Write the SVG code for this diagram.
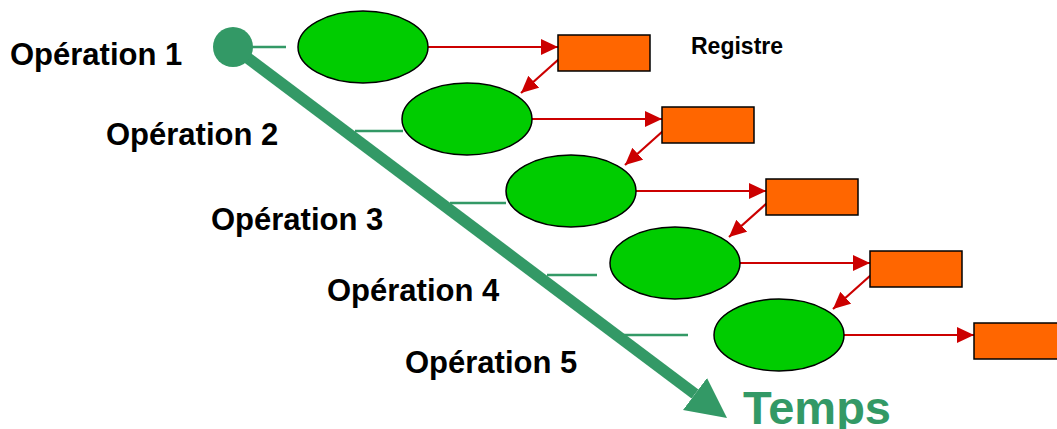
<svg xmlns="http://www.w3.org/2000/svg" width="1057" height="429" viewBox="0 0 1057 429">
  <defs>
    <style>
      .stage { fill: #00cc00; stroke: #000; stroke-width: 1.5; }
      .reg { fill: #ff6600; stroke: #000; stroke-width: 1.5; }
      .flow { stroke: #cc0000; stroke-width: 2.2; fill: none; marker-end: url(#redHead); }
      .tick { stroke: #339966; stroke-width: 2.5; }
      .label { font-family: "Liberation Sans", Arial, sans-serif; font-weight: bold; fill: #000; }
    </style>
    <marker id="redHead" markerUnits="userSpaceOnUse" markerWidth="18" markerHeight="17" refX="17" refY="8" orient="auto">
      <path d="M0,0 L17,8 L0,16 z" fill="#cc0000"/>
    </marker>
    <marker id="timeHead" markerUnits="userSpaceOnUse" markerWidth="42" markerHeight="42" refX="0" refY="20" orient="auto">
      <path d="M0,0 L40,20 L0,40 z" fill="#339966"/>
    </marker>
  </defs>

  <rect width="1057" height="429" fill="#fff"/>

  <!-- time axis -->
  <g id="time-axis">
    <line x1="233" y1="47" x2="695" y2="394" stroke="#339966" stroke-width="11.5" marker-end="url(#timeHead)"/>
    <circle cx="233" cy="47" r="20" fill="#339966"/>
    <line class="tick" x1="250" y1="47" x2="286" y2="47"/>
    <line class="tick" x1="355" y1="131" x2="403" y2="131"/>
    <line class="tick" x1="450" y1="203" x2="506" y2="203"/>
    <line class="tick" x1="547" y1="275" x2="597" y2="275"/>
    <line class="tick" x1="623" y1="335" x2="688" y2="335"/>
    <text class="label" x="743" y="424" font-size="47" style="fill:#339966">Temps</text>
  </g>

  <!-- connectors between stages and registers -->
  <g id="connectors">
    <line class="flow" x1="428" y1="47" x2="558" y2="47"/>
    <line class="flow" x1="532" y1="119" x2="662" y2="119"/>
    <line class="flow" x1="636" y1="191" x2="766" y2="191"/>
    <line class="flow" x1="740" y1="263" x2="870" y2="263"/>
    <line class="flow" x1="844" y1="335" x2="974" y2="335"/>
    <line class="flow" x1="559" y1="59" x2="521" y2="93"/>
    <line class="flow" x1="663" y1="131" x2="625" y2="165"/>
    <line class="flow" x1="767" y1="203" x2="729" y2="237"/>
    <line class="flow" x1="871" y1="275" x2="833" y2="309"/>
  </g>

  <!-- operations -->
  <g id="op1">
    <ellipse class="stage" cx="363" cy="47" rx="65" ry="36"/>
    <text class="label" x="10" y="65" font-size="31">Opération 1</text>
  </g>
  <g id="op2">
    <ellipse class="stage" cx="467" cy="119" rx="65" ry="36"/>
    <text class="label" x="106" y="145" font-size="31">Opération 2</text>
  </g>
  <g id="op3">
    <ellipse class="stage" cx="571" cy="191" rx="65" ry="36"/>
    <text class="label" x="211" y="230" font-size="31">Opération 3</text>
  </g>
  <g id="op4">
    <ellipse class="stage" cx="675" cy="263" rx="65" ry="36"/>
    <text class="label" x="327" y="301" font-size="31">Opération 4</text>
  </g>
  <g id="op5">
    <ellipse class="stage" cx="779" cy="335" rx="65" ry="36"/>
    <text class="label" x="405" y="373" font-size="31">Opération 5</text>
  </g>

  <!-- registers -->
  <g id="reg1">
    <rect class="reg" x="558" y="35" width="92" height="36"/>
    <text class="label" x="691" y="54" font-size="23">Registre</text>
  </g>
  <g id="reg2"><rect class="reg" x="662" y="107" width="92" height="36"/></g>
  <g id="reg3"><rect class="reg" x="766" y="179" width="92" height="36"/></g>
  <g id="reg4"><rect class="reg" x="870" y="251" width="92" height="36"/></g>
  <g id="reg5"><rect class="reg" x="974" y="323" width="92" height="36"/></g>
</svg>
